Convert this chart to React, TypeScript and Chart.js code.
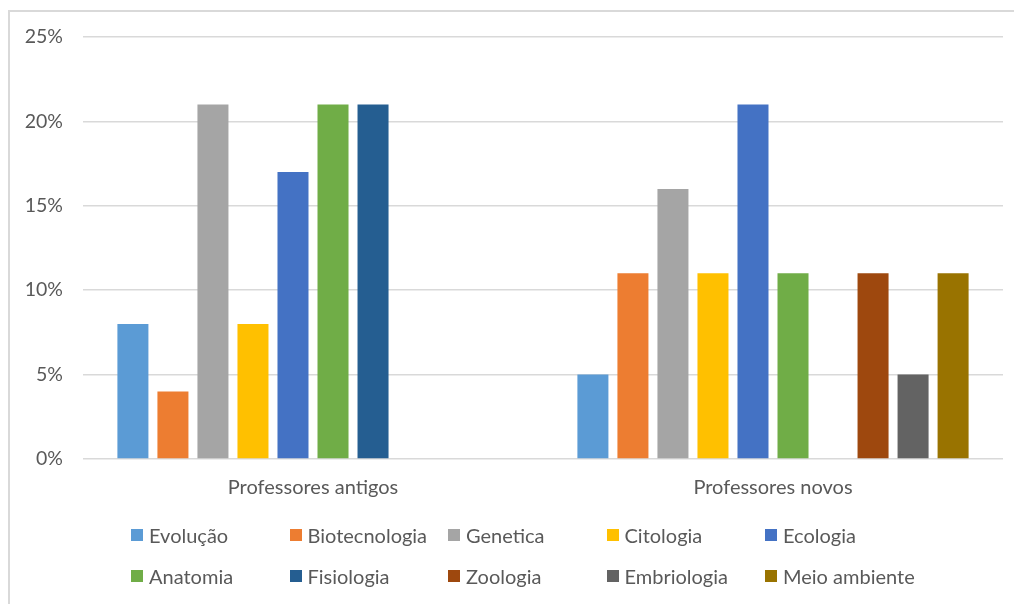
import React, { useEffect, useRef } from "react";
import { Chart, registerables } from "chart.js";

Chart.register(...registerables);

const categories = ["Professores antigos", "Professores novos"];
const seriesNames = [
  "Evolução",
  "Biotecnologia",
  "Genetica",
  "Citologia",
  "Ecologia",
  "Anatomia",
  "Fisiologia",
  "Zoologia",
  "Embriologia",
  "Meio ambiente",
];
const seriesColors = [
  "#5B9BD5",
  "#ED7D31",
  "#A5A5A5",
  "#FFC000",
  "#4472C4",
  "#70AD47",
  "#255E91",
  "#9E480E",
  "#636363",
  "#997300",
];
const evolucao = [8, 5];
const biotecnologia = [4, 11];
const genetica = [21, 16];
const citologia = [8, 11];
const ecologia = [17, 21];
const anatomia = [21, 11];
const fisiologia = [21, 0];
const zoologia = [0, 11];
const embriologia = [0, 5];
const meioAmbiente = [0, 11];
const seriesValues = [
  evolucao,
  biotecnologia,
  genetica,
  citologia,
  ecologia,
  anatomia,
  fisiologia,
  zoologia,
  embriologia,
  meioAmbiente,
];
const yTicks = [0, 5, 10, 15, 20, 25];

const FONT = "Lato, 'Open Sans', sans-serif";
const TEXT = "#595959";

export default function App() {
  const ref = useRef<HTMLCanvasElement | null>(null);

  useEffect(() => {
    if (!ref.current) return;
    const chart = new Chart(ref.current, {
      type: "bar",
      data: {
        labels: categories,
        datasets: seriesNames.map((name, i) => ({
          label: name,
          data: seriesValues[i],
          backgroundColor: seriesColors[i],
          borderWidth: 0,
          categoryPercentage: 0.87,
          barPercentage: 0.775,
        })),
      },
      options: {
        animation: false,
        responsive: false,
        maintainAspectRatio: false,
        layout: { padding: { left: 0, right: 11, top: 37, bottom: 85 } },
        plugins: {
          legend: { display: false },
          tooltip: { enabled: false },
        },
        scales: {
          x: {
            grid: { display: false, drawTicks: false },
            border: { display: false },
            ticks: {
              color: TEXT,
              font: { family: FONT, size: 20 },
              padding: 17,
            },
            afterFit: (s: any) => {
              s.height = 60;
            },
          },
          y: {
            min: 0,
            max: 25,
            afterBuildTicks: (s: any) => {
              s.ticks = yTicks.map((v) => ({ value: v }));
            },
            grid: { color: "#D9D9D9", lineWidth: 1.5, drawTicks: false },
            border: { display: false },
            ticks: {
              color: TEXT,
              font: { family: FONT, size: 19.5 },
              padding: 20,
              callback: (v: any) => v + "%",
            },
            afterFit: (s: any) => {
              s.width = 83;
            },
          },
        },
      },
    });
    return () => chart.destroy();
  }, []);

  return (
    <div
      style={{
        position: "fixed",
        left: 0,
        top: 0,
        width: 1014,
        height: 604,
        background: "#fff",
        overflow: "hidden",
      }}
    >
      <div
        style={{
          position: "absolute",
          left: 8,
          top: 10,
          width: 1100,
          height: 700,
          borderLeft: "2px solid #D9D9D9",
          borderTop: "2px solid #D9D9D9",
        }}
      />
      <canvas
        ref={ref}
        width={1014}
        height={604}
        style={{ position: "absolute", left: 0, top: 0, width: 1014, height: 604 }}
      />
      {seriesNames.map((name, i) => {
        const col = i % 5;
        const row = Math.floor(i / 5);
        return (
          <div
            key={name}
            style={{
              position: "absolute",
              left: 131 + col * 158.5,
              top: 535 + row * 41 - 14,
              height: 28,
              display: "flex",
              alignItems: "center",
              fontFamily: FONT,
              fontSize: 20,
              color: TEXT,
              whiteSpace: "nowrap",
            }}
          >
            <span
              style={{
                display: "inline-block",
                width: 12,
                height: 12,
                background: seriesColors[i],
                marginRight: 6,
              }}
            />
            {name}
          </div>
        );
      })}
    </div>
  );
}
